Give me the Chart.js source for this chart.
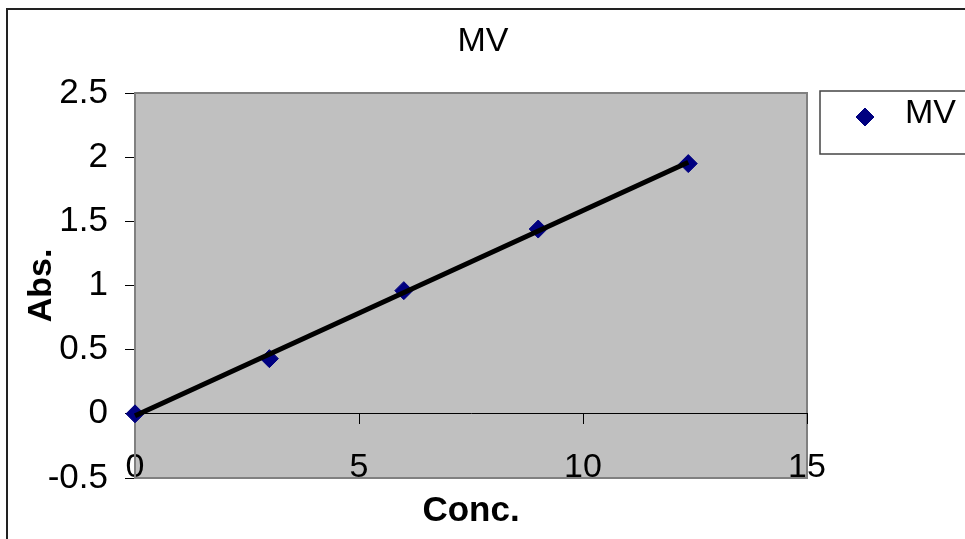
<!DOCTYPE html>
<html>
<head>
<meta charset="utf-8">
<title>MV</title>
<script src="https://cdn.jsdelivr.net/npm/chart.js@4.4.1/dist/chart.umd.min.js"></script>
<style>
  html, body { margin: 0; padding: 0; background: #ffffff; }
  canvas { display: block; }
</style>
</head>
<body>
<canvas id="mvChart" width="965" height="539"></canvas>
<script>
// Calibration data for MV: concentration vs absorbance
const seriesName = 'MV';
const conc = [0, 3, 6, 9, 12.35];
const absorbance = [0, 0.43, 0.96, 1.44, 1.95];

// Axis ranges and tick steps
const xTicks = [0, 5, 10, 15];
const yTicks = [-0.5, 0, 0.5, 1, 1.5, 2, 2.5];

const FONT = "'Liberation Sans', Arial, sans-serif";
const MARKER = '#000080';

/**
 * Least-squares straight line through the points, returned as the two
 * end points of the trendline (from the first to the last x value).
 */
function linearTrend(xs, ys) {
    const n = xs.length;
    const mx = xs.reduce((a, b) => a + b, 0) / n;
    const my = ys.reduce((a, b) => a + b, 0) / n;
    let sxy = 0, sxx = 0;
    for (let i = 0; i < n; i++) {
        sxy += (xs[i] - mx) * (ys[i] - my);
        sxx += (xs[i] - mx) * (xs[i] - mx);
    }
    const slope = sxy / sxx;
    const icpt = my - slope * mx;
    const x0 = Math.min(...xs), x1 = Math.max(...xs);
    return [{ x: x0, y: slope * x0 + icpt }, { x: x1, y: slope * x1 + icpt }];
}

// Grey plot area, outer frame, title and legend box
const excelFrame = {
    id: 'excelFrame',
    beforeDraw(chart) {
        const { ctx, chartArea: a } = chart;
        ctx.save();
        ctx.fillStyle = '#c0c0c0';
        ctx.fillRect(a.left, a.top, a.right - a.left, a.bottom - a.top);
        ctx.strokeStyle = '#808080';
        ctx.lineWidth = 2;
        ctx.strokeRect(a.left, a.top, a.right - a.left, a.bottom - a.top);

        // outer chart border, runs off the right and bottom edges
        ctx.strokeStyle = '#222222';
        ctx.lineWidth = 2;
        ctx.strokeRect(7, 9, 1000, 600);

        ctx.fillStyle = '#000000';
        ctx.font = '34px ' + FONT;
        ctx.textAlign = 'center';
        ctx.textBaseline = 'middle';
        ctx.fillText(seriesName, 483, 42);
        ctx.restore();
    },
    afterDraw(chart) {
        const { ctx } = chart;
        ctx.save();
        ctx.fillStyle = '#ffffff';
        ctx.fillRect(820, 91, 200, 63);
        ctx.strokeStyle = '#444444';
        ctx.lineWidth = 1.5;
        ctx.strokeRect(820, 91, 200, 63);

        ctx.fillStyle = MARKER;
        ctx.strokeStyle = MARKER;
        ctx.lineWidth = 1;
        Chart.helpers.drawPoint(ctx, { pointStyle: 'rectRot', radius: 9, rotation: 0, borderWidth: 1 }, 865, 117);
        ctx.fill();

        ctx.fillStyle = '#000000';
        ctx.font = '34px ' + FONT;
        ctx.textAlign = 'left';
        ctx.textBaseline = 'middle';
        ctx.fillText(seriesName, 905, 114);
        ctx.restore();
    }
};

Chart.defaults.font.family = FONT;
Chart.defaults.color = '#000000';

const ctx = document.getElementById('mvChart').getContext('2d');
const chart = new Chart(ctx, {
    type: 'scatter',
    data: {
        datasets: [
            {
                type: 'line',
                label: 'Linear (' + seriesName + ')',
                data: linearTrend(conc, absorbance),
                borderColor: '#000000',
                borderWidth: 5,
                pointRadius: 0,
                fill: false,
                order: 0,
                clip: false
            },
            {
                label: seriesName,
                data: conc.map((x, i) => ({ x: x, y: absorbance[i] })),
                pointStyle: 'rectRot',
                pointRadius: 9,
                pointBorderWidth: 1,
                backgroundColor: MARKER,
                borderColor: MARKER,
                order: 1,
                clip: false
            }
        ]
    },
    options: {
        responsive: false,
        animation: false,
        layout: { padding: { left: 0, top: 93, right: 158, bottom: 61 } },
        plugins: {
            legend: { display: false },
            tooltip: { enabled: false },
            title: { display: false }
        },
        scales: {
            x: {
                type: 'linear',
                position: { y: 0 },
                min: xTicks[0],
                max: xTicks[xTicks.length - 1],
                afterBuildTicks: (scale) => { scale.ticks = xTicks.map(v => ({ value: v })); },
                afterFit: (scale) => { scale.height = 120; },
                ticks: { font: { size: 34 }, padding: 23, maxRotation: 0, callback: (v) => String(v) },
                grid: { drawOnChartArea: false, drawTicks: true, tickLength: 10, color: '#000000', lineWidth: 1 },
                border: { display: true, color: '#000000', width: 1 },
                title: { display: true, text: 'Conc.', font: { size: 35, weight: 'bold' }, padding: { top: 0, bottom: 1 } }
            },
            y: {
                type: 'linear',
                min: yTicks[0],
                max: yTicks[yTicks.length - 1],
                afterBuildTicks: (scale) => { scale.ticks = yTicks.map(v => ({ value: v })); },
                afterFit: (scale) => { scale.width = 135; },
                ticks: { font: { size: 35 }, padding: 17, callback: (v) => String(v) },
                grid: { drawOnChartArea: false, drawTicks: true, tickLength: 10, color: '#000000', lineWidth: 1 },
                border: { display: true, color: '#808080', width: 2 },
                title: { display: true, text: 'Abs.', font: { size: 34, weight: 'bold' }, padding: { top: 21, bottom: 0 } }
            }
        }
    },
    plugins: [excelFrame]
});
</script>
</body>
</html>
